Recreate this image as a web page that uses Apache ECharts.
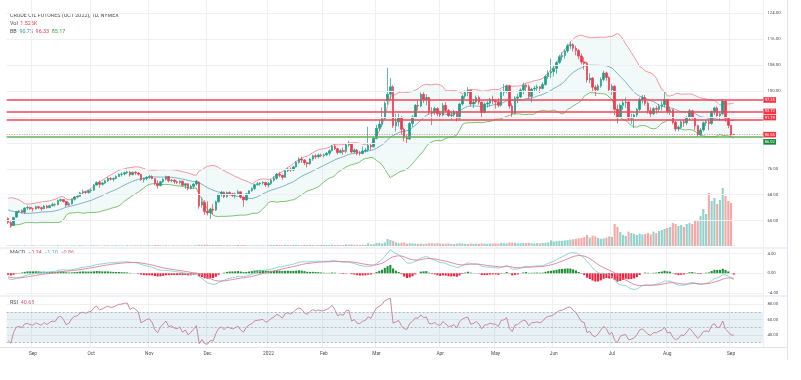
<!DOCTYPE html>
<html><head><meta charset="utf-8">
<script src="https://cdn.jsdelivr.net/npm/echarts@6/dist/echarts.min.js"></script>
<style>html,body{margin:0;padding:0;background:#fff}#c{width:801px;height:380px}</style>
</head><body><div id="c"></div>
<script>
// ---------------- DATA ----------------
const monthKeys = ['2021-08','2021-09','2021-10','2021-11','2021-12','2022-01','2022-02','2022-03','2022-04','2022-05','2022-06','2022-07','2022-08','2022-09'];
const monthTickLabels = ['','Sep','Oct','Nov','Dec','2022','Feb','Mar','Apr','May','Jun','Jul','Aug','Sep'];
const tradingDays = [
 [19,20,23,24,25,26,27,30,31],
 [1,2,3,7,8,9,10,13,14,15,16,17,20,21,22,23,24,27,28,29,30],
 [1,4,5,6,7,8,11,12,13,14,15,18,19,20,21,22,25,26,27,28,29],
 [1,2,3,4,5,8,9,10,11,12,15,16,17,18,19,22,23,24,26,29,30],
 [1,2,3,6,7,8,9,10,13,14,15,16,17,20,21,22,23,27,28,29,30,31],
 [3,4,5,6,7,10,11,12,13,14,18,19,20,21,24,25,26,27,28,31],
 [1,2,3,4,7,8,9,10,11,14,15,16,17,18,22,23,24,25,28],
 [1,2,3,4,7,8,9,10,11,14,15,16,17,18,21,22,23,24,25,28,29,30,31],
 [1,4,5,6,7,8,11,12,13,14,18,19,20,21,22,25,26,27,28,29],
 [2,3,4,5,6,9,10,11,12,13,16,17,18,19,20,23,24,25,26,27,31],
 [1,2,3,6,7,8,9,10,13,14,15,16,17,21,22,23,24,27,28,29,30],
 [1,5,6,7,8,11,12,13,14,15,18,19,20,21,22,25,26,27,28,29],
 [1,2,3,4,5,8,9,10,11,12,15,16,17,18,19,22,23,24,25,26,29,30,31],
 [1,2]
];
// closes before the first visible bar (only used to warm up the indicators)
const warmupClose = [65.0,65.6,65.9,66.3,66.5,66.0,66.3,66.7,67.5,67.6,66.2,65.9,66.2,66.8,66.6,67.4,65.9,65.1,65.0,60.9,61.5,63.6,64.3,64.6,64.7,64.9,65.6,66.2,66.5,64.7,63.2,62.4,62.9,62.3,61.3,62.8,63.7,63.3,63.0,62.4,62.0,60.7];
// [open, close, low, high]
const candles = [
[60.7,59.5,59.0,61.0],[59.4,58.3,57.8,59.8],[58.5,61.0,58.4,61.2],[61.1,62.8,60.9,63.0],[62.8,63.0,62.3,63.3],[63.1,62.6,62.2,63.5],[62.6,63.9,62.0,64.1],[63.9,64.1,63.3,64.6],[64.1,63.7,63.3,64.3],
[63.7,63.6,62.8,64.0],[63.6,64.3,63.4,64.6],[64.3,64.0,63.6,64.6],[64.0,63.7,63.0,64.3],[63.7,64.5,63.5,64.8],[64.5,64.0,63.7,64.8],[64.0,64.6,63.9,64.9],[64.6,65.0,64.4,65.6],[65.0,64.9,64.4,65.4],[64.9,66.2,64.8,66.5],[66.2,66.5,65.8,66.8],[66.5,65.9,65.6,66.6],[65.9,64.8,64.3,66.0],[64.8,65.2,64.6,65.7],[65.2,66.6,65.0,66.8],[66.6,67.3,66.2,67.6],[67.3,67.5,66.9,67.8],[67.5,68.6,67.4,68.9],[68.6,68.9,68.2,69.6],[68.9,68.7,68.1,69.2],[68.7,69.2,68.3,69.5],
[69.2,69.4,68.6,69.8],[69.4,71.0,69.2,71.3],[71.0,71.8,70.8,72.1],[71.8,71.2,70.2,72.4],[71.2,71.6,70.8,72.0],[71.6,72.3,71.3,72.6],[72.3,73.0,72.0,73.5],[73.0,72.8,72.4,73.4],[72.8,73.0,72.1,73.3],[73.0,73.6,72.8,74.0],[73.6,74.3,73.5,74.6],[74.3,74.4,73.6,74.9],[74.4,74.8,74.0,75.1],[74.8,75.0,74.3,75.4],[75.0,74.2,73.6,75.3],[74.2,74.9,74.0,75.2],[74.9,74.7,74.1,75.3],[74.7,74.3,73.9,75.0],[74.3,72.6,72.3,74.4],[72.6,73.0,71.8,73.3],[73.0,73.4,72.4,73.7],
[73.4,73.6,72.9,74.1],[73.6,73.0,72.7,74.0],[73.0,71.5,71.0,73.1],[71.5,70.8,69.9,72.4],[70.8,72.0,70.6,72.3],[72.0,72.8,71.7,73.0],[72.8,73.6,72.4,73.9],[73.6,72.3,71.8,73.8],[72.3,72.5,71.9,72.9],[72.5,72.0,71.4,72.8],[72.0,71.8,71.3,72.4],[71.8,72.2,71.2,72.5],[72.2,70.9,70.6,72.3],[70.9,71.4,69.9,71.6],[71.4,70.0,69.4,71.5],[70.0,70.6,69.6,71.1],[70.6,71.3,69.8,71.6],[71.3,72.2,70.9,72.5],[71.9,64.5,63.7,72.1],[64.8,65.8,64.0,67.2],[65.6,62.8,61.8,66.3],
[62.9,62.4,61.6,66.0],[62.4,63.6,60.5,64.0],[63.6,63.2,61.9,65.1],[63.3,65.8,63.0,66.2],[65.8,68.0,65.6,68.4],[68.0,68.8,67.4,69.2],[68.8,67.4,67.0,69.0],[67.4,68.7,67.1,69.0],[68.7,68.3,67.8,69.1],[68.3,67.8,67.3,68.6],[67.8,68.3,66.9,68.7],[68.3,68.9,68.0,69.5],[68.9,67.3,66.8,69.0],[67.3,66.4,64.3,67.4],[66.4,68.3,66.2,68.5],[68.3,69.2,67.9,69.4],[69.2,69.9,69.0,70.3],[69.9,71.1,69.4,71.4],[71.1,71.4,70.8,71.9],[71.4,71.6,70.8,71.9],[71.6,71.8,71.1,72.2],[71.8,71.0,70.4,72.0],
[71.0,71.5,70.2,71.9],[71.5,72.5,71.0,72.9],[72.5,73.1,72.0,73.8],[73.1,74.3,72.6,74.7],[74.3,74.0,73.4,75.0],[74.0,73.4,72.6,74.2],[73.4,75.4,73.2,75.6],[75.4,75.9,75.0,76.4],[75.9,75.6,75.1,76.4],[75.6,76.6,75.3,76.9],[76.6,78.0,76.4,78.4],[78.0,79.0,77.5,79.5],[79.0,78.7,77.8,79.7],[78.7,77.9,77.2,79.0],[77.9,77.6,76.4,78.2],[77.6,79.0,77.2,79.3],[79.0,80.0,78.5,80.4],[80.0,79.7,79.0,80.5],[79.7,80.3,79.2,80.7],[80.3,80.1,79.6,80.7],
[80.1,80.3,79.5,80.7],[80.3,80.8,79.9,81.2],[80.8,81.6,80.1,82.0],[81.6,83.0,81.3,83.3],[83.0,82.2,81.8,83.5],[82.2,81.0,80.4,82.5],[81.0,81.6,80.8,82.1],[81.6,81.4,80.4,82.6],[81.4,83.4,80.8,83.9],[83.4,83.8,82.8,84.7],[83.8,81.2,80.8,84.0],[81.2,81.8,80.8,82.3],[81.8,80.8,80.2,82.1],[80.8,80.7,80.1,81.5],[80.7,81.5,80.5,82.9],[81.5,81.8,81.0,82.4],[81.8,83.2,81.3,89.0],[83.2,82.8,81.8,84.0],[82.8,85.4,82.6,85.9],
[85.4,88.5,85.1,89.6],[88.5,89.8,87.6,91.2],[89.8,91.5,88.9,95.0],[91.5,96.2,91.3,96.8],[97.0,99.0,95.8,107.2],[99.0,101.3,97.2,104.0],[101.3,89.3,88.6,101.8],[89.3,90.5,87.5,93.0],[90.5,91.8,89.0,93.0],[91.8,88.2,86.5,92.3],[88.2,85.6,84.5,88.7],[85.6,85.2,83.8,86.6],[85.2,90.0,84.9,90.5],[90.0,92.0,89.0,92.6],[92.0,95.6,91.6,96.0],[95.6,95.4,94.0,97.0],[95.4,99.0,95.0,99.6],[99.0,97.3,96.3,99.6],[97.3,98.0,95.6,99.0],[98.0,93.6,92.8,98.2],[93.6,93.3,89.5,95.0],[93.3,94.6,92.6,95.2],[94.6,93.0,92.2,95.0],
[93.0,92.6,91.6,93.9],[92.6,95.6,92.2,96.4],[95.6,94.0,93.6,96.6],[94.0,92.4,91.8,94.5],[92.4,92.6,91.2,93.6],[92.6,93.6,92.0,94.2],[93.6,91.6,90.6,93.9],[91.6,96.0,91.4,96.4],[96.0,98.4,95.5,98.9],[98.4,99.5,97.6,100.2],[99.5,100.2,98.4,101.2],[100.2,96.0,95.4,100.5],[96.0,96.6,94.8,97.4],[96.6,98.0,96.0,98.6],[98.0,96.6,95.8,98.6],[96.6,93.4,92.0,96.7],[93.4,96.0,93.2,96.5],[96.0,96.3,94.9,96.9],[96.3,97.4,95.2,97.9],[97.4,97.0,96.0,98.6],
[97.0,96.7,94.6,97.6],[96.7,95.6,95.0,97.7],[95.6,99.6,95.2,100.2],[99.6,100.0,98.5,102.2],[100.0,101.6,99.3,102.0],[101.6,95.4,94.6,102.0],[95.4,93.0,92.0,96.2],[93.0,97.8,92.8,98.4],[97.8,98.2,96.2,99.2],[98.2,100.3,97.8,100.8],[100.3,101.8,99.0,102.6],[101.8,101.3,99.9,102.3],[101.3,98.3,97.6,102.0],[98.3,100.6,96.5,101.0],[100.6,100.9,99.8,101.6],[100.9,101.3,99.9,102.0],[101.3,100.8,99.4,101.6],[100.8,102.0,100.5,102.7],[102.0,104.5,101.7,105.0],[104.5,105.6,103.8,106.4],[105.6,106.0,104.0,110.0],
[106.0,107.0,104.5,107.8],[107.0,108.8,105.3,109.2],[108.8,110.6,108.4,111.2],[110.6,111.0,109.4,112.0],[111.0,112.4,110.0,112.9],[112.4,114.0,111.8,114.6],[114.0,114.3,113.0,115.3],[114.3,113.2,112.2,114.8],[113.2,112.5,111.0,114.0],[112.5,110.8,109.8,113.0],[110.8,109.0,108.2,111.6],[109.0,108.6,106.6,110.4],[108.6,103.4,102.6,109.0],[103.4,104.0,102.4,105.5],[104.0,101.2,99.6,104.3],[101.2,100.4,98.4,101.8],[100.4,101.6,99.8,102.2],[101.6,103.6,101.0,104.2],[103.6,105.6,103.0,106.3],[105.6,104.2,103.2,106.0],[104.2,100.4,99.6,104.6],
[100.4,101.5,98.8,102.2],[101.5,94.4,92.6,101.8],[94.4,92.0,90.0,95.8],[92.0,95.6,91.8,96.2],[95.6,96.4,94.2,97.3],[96.4,96.6,94.8,98.0],[96.6,91.6,91.0,96.8],[91.6,91.9,89.8,93.0],[91.9,92.6,88.6,93.0],[92.6,94.3,91.8,94.8],[94.3,97.4,93.8,98.0],[97.4,98.0,96.2,98.8],[98.0,96.2,95.5,98.8],[96.2,93.9,93.0,96.8],[93.9,93.0,92.0,95.0],[93.0,94.6,92.5,95.0],[94.6,94.4,93.0,95.4],[94.4,95.3,93.4,96.0],[95.3,95.8,94.0,97.0],[95.8,97.4,95.0,99.8],
[97.4,93.8,93.0,97.5],[93.8,94.2,92.6,95.3],[94.2,90.4,89.7,94.5],[90.4,88.3,87.5,90.8],[88.3,88.8,87.6,89.4],[88.8,90.5,88.3,91.0],[90.5,90.2,89.0,91.0],[90.2,91.8,89.5,92.3],[91.8,93.9,91.0,94.5],[93.9,91.9,91.5,94.1],[91.9,89.3,87.9,92.0],[89.3,86.6,85.9,89.6],[86.6,88.0,86.1,88.6],[88.0,90.2,87.5,90.6],[90.2,90.5,89.2,91.1],[90.5,90.0,87.9,91.2],[90.0,93.6,89.6,94.0],[93.6,94.8,92.6,95.2],[94.8,92.4,92.0,95.3],[92.4,93.0,91.2,93.6],[93.0,96.9,92.5,97.6],[96.9,91.6,90.5,97.0],[91.6,89.4,88.5,92.0],
[89.4,86.6,85.8,89.5],[86.6,86.55,86.4,86.7]
];
// volume, thousands of contracts
const volumeK = [
2,3,2,3,2,2,3,2,2,
3,2,2,3,2,2,3,3,2,4,3,2,3,2,3,3,2,4,3,3,2,
3,4,3,3,2,3,4,3,3,4,3,3,2,4,3,3,4,3,4,3,3,
4,3,4,5,3,3,4,3,3,4,3,3,4,3,4,3,3,4,6,5,7,
6,5,5,4,5,4,3,4,4,3,4,5,4,5,4,3,3,3,4,3,3,2,
4,5,5,6,5,4,6,5,4,6,6,5,4,6,5,6,5,4,5,5,
6,5,6,7,5,6,5,5,8,7,9,6,6,5,6,6,14,8,10,
15,16,12,18,35,30,26,18,14,16,17,12,14,13,12,11,12,10,11,14,13,12,14,
12,11,12,13,11,10,12,14,12,11,10,12,11,12,11,13,12,11,12,12,
13,12,15,14,13,18,17,16,13,14,15,14,16,14,13,14,13,15,16,18,28,
22,24,26,25,28,30,32,34,36,38,40,45,55,42,52,48,40,36,38,42,48,
45,110,95,70,55,50,72,65,60,55,62,58,60,66,58,72,65,75,80,85,
90,95,115,110,100,105,95,110,115,110,125,130,150,185,160,265,225,240,210,230,290,250,225,
215,1.526
];
const priceGridLevels = [60,68,76,84,92,100,108,116,124];
const priceAxisLabels = [60,68,76,100,108,116,124];
const resistanceLevels = [97.25, 93.72, 91.19];
const supportLevel = 86.02;
const lastPrice = 86.55;
const headerTitle = 'CRUDE OIL FUTURES (OCT 2022), 1D, NYMEX';
const volText = '1.526K';
const bbText = ['90.75','96.33','85.17'];
const macdText = ['−0.24','−1.10','−0.86'];
const rsiText = '40.68';

// ---------------- INDICATORS ----------------
const closesAll = warmupClose.concat(candles.map(r => r[1]));
const W0 = warmupClose.length;
function bollinger(cl, n, k) {
  const up = [], mid = [], lo = [];
  for (let i = 0; i < cl.length; i++) {
    if (i < n - 1) { up.push(null); mid.push(null); lo.push(null); continue; }
    let s = 0; for (let j = i - n + 1; j <= i; j++) s += cl[j];
    const m = s / n; let v = 0;
    for (let j = i - n + 1; j <= i; j++) v += (cl[j] - m) * (cl[j] - m);
    const sd = Math.sqrt(v / n);
    mid.push(m); up.push(m + k * sd); lo.push(m - k * sd);
  }
  return [up, mid, lo];
}
function ema(arr, n) {
  const a = 2 / (n + 1); const out = []; let p = arr[0];
  arr.forEach((v, i) => { p = i === 0 ? v : a * v + (1 - a) * p; out.push(p); });
  return out;
}
function rsiCalc(cl, n) {
  const out = [null]; let ag = 0, al = 0;
  for (let i = 1; i < cl.length; i++) {
    const d = cl[i] - cl[i - 1]; const g = Math.max(d, 0), l = Math.max(-d, 0);
    if (i <= n) { ag += g / n; al += l / n; out.push(i === n ? 100 - 100 / (1 + ag / (al || 1e-9)) : null); }
    else { ag = (ag * (n - 1) + g) / n; al = (al * (n - 1) + l) / n; out.push(100 - 100 / (1 + ag / (al || 1e-9))); }
  }
  return out;
}
const [bbUp, bbMid, bbLo] = bollinger(closesAll, 20, 2).map(a => a.slice(W0));
const e12 = ema(closesAll, 12), e26 = ema(closesAll, 26);
const macdAll = e12.map((v, i) => v - e26[i]);
const sigAll = ema(macdAll, 9);
const macdLine = macdAll.slice(W0), sigLine = sigAll.slice(W0);
const hist = macdLine.map((v, i) => v - sigLine[i]);
const rsiLine = rsiCalc(closesAll, 14).slice(W0);

// ---------------- CATEGORIES ----------------
const cats = []; const monthStart = {};
monthKeys.forEach((m, k) => {
  if (monthTickLabels[k]) monthStart[cats.length] = monthTickLabels[k];
  tradingDays[k].forEach(d => cats.push(m + '-' + String(d).padStart(2, '0')));
});
const PAD = 10; for (let i = 0; i < PAD; i++) cats.push('~' + i);

// ---------------- CHART ----------------
const FONT = 'Roboto, "Liberation Sans", sans-serif';
const TXT = '#4a4d57';
const GRIDC = '#eef0f4';
const UP = '#1f9d88', DOWN = '#f0384b';
const L = 6.69, R = 38.1;
const chart = echarts.init(document.getElementById('c'), null, {renderer: 'canvas', width: 801, height: 380, devicePixelRatio: 1});

function catAxis(gi, extra) {
  return Object.assign({type: 'category', gridIndex: gi, data: cats, boundaryGap: true,
    axisLine: {show: false}, axisTick: {show: false}, axisLabel: {show: false}, splitLine: {show: false}}, extra || {});
}
const isMonth = (i) => monthStart[i] !== undefined;

const option = {
  animation: false,
  backgroundColor: '#ffffff',
  grid: [
    {left: L, right: R, top: 0.34, height: 246.24},
    {left: L, right: R, top: 176, height: 70},
    {left: L, right: R, top: 233.6, height: 79.4},
    {left: L, right: R, top: 288.95, height: 61.4},
    {left: L, right: R, top: 0, height: 347}
  ],
  xAxis: [
    catAxis(0), catAxis(1), catAxis(2),
    catAxis(3, {axisLabel: {show: true, interval: (i) => isMonth(i), formatter: (v, i) => monthStart[i] || '',
      fontSize: 4.8, color: TXT, fontFamily: FONT, margin: 0.5}}),
    catAxis(4, {splitLine: {show: true, interval: (i) => isMonth(i), lineStyle: {color: GRIDC, width: 1}}})
  ],
  yAxis: [
    {type: 'value', gridIndex: 0, position: 'right', min: 52, max: 128, interval: 4, scale: true,
     axisLine: {show: false}, axisTick: {show: false}, splitLine: {show: false},
     axisLabel: {formatter: v => priceAxisLabels.indexOf(v) >= 0 ? v.toFixed(2) : '', fontSize: 4.3, color: TXT, fontFamily: FONT, margin: 4.5}},
    {type: 'value', gridIndex: 1, min: 0, max: 350, show: false},
    {type: 'value', gridIndex: 2, position: 'right', min: -8, max: 8, interval: 4,
     axisLine: {show: false}, axisTick: {show: false},
     splitLine: {show: true, showMinLine: false, showMaxLine: false, lineStyle: {color: GRIDC}},
     axisLabel: {showMinLabel: false, showMaxLabel: false, formatter: v => (v < 0 ? '−' : '') + Math.abs(v).toFixed(2), fontSize: 4.3, color: TXT, fontFamily: FONT, margin: 4.5}},
    {type: 'value', gridIndex: 3, position: 'right', min: 20, max: 100, interval: 20,
     axisLine: {show: false}, axisTick: {show: false},
     splitLine: {show: true, showMinLine: false, showMaxLine: false, lineStyle: {color: GRIDC}},
     axisLabel: {showMinLabel: false, showMaxLabel: false, formatter: v => v.toFixed(2), fontSize: 4.3, color: TXT, fontFamily: FONT, margin: 4.5}},
    {type: 'value', gridIndex: 4, show: false}
  ],
  series: [
    {name: 'bbBase', type: 'line', xAxisIndex: 0, yAxisIndex: 0, data: bbLo, stack: 'bb', symbol: 'none',
     lineStyle: {opacity: 0}, silent: true, z: 1,
     markLine: {silent: true, symbol: ['none', 'none'], label: {show: false},
       lineStyle: {color: GRIDC, width: 1, type: 'solid'},
       data: priceGridLevels.map(v => ({yAxis: v}))}},
    {name: 'bbBand', type: 'line', xAxisIndex: 0, yAxisIndex: 0, data: bbUp.map((v, i) => v === null ? null : v - bbLo[i]),
     stack: 'bb', symbol: 'none', lineStyle: {opacity: 0}, areaStyle: {color: 'rgba(38,166,154,0.085)'}, silent: true, z: 1},
    {name: 'bbUpper', type: 'line', xAxisIndex: 0, yAxisIndex: 0, data: bbUp, symbol: 'none', lineStyle: {color: '#f48a95', width: 0.9}, silent: true, z: 2},
    {name: 'bbMid', type: 'line', xAxisIndex: 0, yAxisIndex: 0, data: bbMid, symbol: 'none', lineStyle: {color: '#72a9c2', width: 0.9}, silent: true, z: 2},
    {name: 'bbLower', type: 'line', xAxisIndex: 0, yAxisIndex: 0, data: bbLo, symbol: 'none', lineStyle: {color: '#6cbb62', width: 0.9}, silent: true, z: 2},
    {name: 'price', type: 'candlestick', xAxisIndex: 0, yAxisIndex: 0, data: candles, barWidth: '74%', z: 4,
     itemStyle: {color: UP, color0: DOWN, borderColor: UP, borderColor0: DOWN, borderWidth: 0.7},
     markLine: {silent: true, symbol: ['none', 'none'], animation: false,
       data: resistanceLevels.map((v, k) => ({yAxis: v, lineStyle: {color: '#f2445a', width: 1.5, type: 'solid'},
           label: {show: true, position: 'end', distance: 0.5, formatter: v.toFixed(2), color: '#fff', backgroundColor: '#f23645',
             fontSize: 4, fontFamily: FONT, padding: [1, 1.3, 0.6, 1.3], offset: [0, k === 2 ? -2 : 0]}}))
         .concat([
           {yAxis: lastPrice, lineStyle: {color: '#f23645', width: 0.6, type: [1, 1.5]},
            label: {show: true, position: 'end', distance: 0.5, formatter: lastPrice.toFixed(2), color: '#fff', backgroundColor: '#f23645',
              fontSize: 4, fontFamily: FONT, padding: [1, 1.3, 0.6, 1.3], offset: [0, 0]}},
           {yAxis: supportLevel, lineStyle: {color: '#5fb35a', width: 1.6, type: 'solid'},
            label: {show: true, position: 'end', distance: 0.5, formatter: supportLevel.toFixed(2), color: '#fff', backgroundColor: '#178a35',
              fontSize: 4, fontFamily: FONT, padding: [1, 1.3, 0.6, 1.3], offset: [0, 5.5]}}
         ])}},
    {name: 'volume', type: 'bar', xAxisIndex: 1, yAxisIndex: 1, barWidth: '76%', z: 0, silent: true,
     data: volumeK.map((v, i) => ({value: v, itemStyle: {color: candles[i][1] >= candles[i][0] ? 'rgba(38,166,154,0.5)' : 'rgba(239,83,80,0.5)'}}))},
    {name: 'hist', type: 'bar', xAxisIndex: 2, yAxisIndex: 2, barWidth: '76%', silent: true,
     data: hist.map(v => ({value: v, itemStyle: {color: v >= 0 ? '#1f8f36' : '#f2203c'}}))},
    {name: 'macd', type: 'line', xAxisIndex: 2, yAxisIndex: 2, data: macdLine, symbol: 'none', silent: true, lineStyle: {color: '#7fd3c9', width: 0.9}},
    {name: 'signal', type: 'line', xAxisIndex: 2, yAxisIndex: 2, data: sigLine, symbol: 'none', silent: true, lineStyle: {color: '#dc7f9a', width: 0.9}},
    {name: 'rsi', type: 'line', xAxisIndex: 3, yAxisIndex: 3, data: rsiLine, symbol: 'none', silent: true, lineStyle: {color: '#c47d97', width: 0.9},
     markArea: {silent: true, itemStyle: {color: 'rgba(120,178,186,0.18)'}, data: [[{yAxis: 70}, {yAxis: 30}]]},
     markLine: {silent: true, symbol: ['none', 'none'], label: {show: false},
       lineStyle: {color: '#9aa0aa', width: 0.7, type: [2, 2]}, data: [{yAxis: 70}, {yAxis: 50}, {yAxis: 30}]}}
  ],
  graphic: [
    {type: 'line', shape: {x1: 0, y1: 248, x2: 787, y2: 248}, style: {stroke: '#e0e3eb', lineWidth: 1}, silent: true},
    {type: 'line', shape: {x1: 0, y1: 296, x2: 787, y2: 296}, style: {stroke: '#e0e3eb', lineWidth: 1}, silent: true},
    {type: 'line', shape: {x1: 0, y1: 347.5, x2: 787, y2: 347.5}, style: {stroke: '#e0e3eb', lineWidth: 1}, silent: true},
    {type: 'line', shape: {x1: 787.5, y1: 0, x2: 787.5, y2: 360}, style: {stroke: '#e0e3eb', lineWidth: 1}, silent: true},
    {type: 'text', x: 10, y: 15.7, style: {text: headerTitle, fill: TXT, font: '5.4px ' + FONT, textVerticalAlign: 'middle'}, silent: true},
    {type: 'text', x: 10, y: 23.8, style: {text: '{a|Vol}  {r|' + volText + '}', textVerticalAlign: 'middle', font: '5.4px ' + FONT,
      rich: {a: {fill: TXT, fontSize: 5.4, fontFamily: FONT}, r: {fill: '#f0384b', fontSize: 5.4, fontFamily: FONT}}}, silent: true},
    {type: 'text', x: 10, y: 31.7, style: {text: '{a|BB}  {b|' + bbText[0] + '}  {r|' + bbText[1] + '}  {g|' + bbText[2] + '}', textVerticalAlign: 'middle', font: '5.4px ' + FONT,
      rich: {a: {fill: TXT, fontSize: 5.4, fontFamily: FONT}, b: {fill: '#3a8fb0', fontSize: 5.4, fontFamily: FONT}, r: {fill: '#f0384b', fontSize: 5.4, fontFamily: FONT}, g: {fill: '#3f9c45', fontSize: 5.4, fontFamily: FONT}}}, silent: true},
    {type: 'text', x: 10, y: 252.3, style: {text: '{a|MACD}  {r|' + macdText[0] + '}  {t|' + macdText[1] + '}  {p|' + macdText[2] + '}', textVerticalAlign: 'middle', font: '5.4px ' + FONT,
      rich: {a: {fill: TXT, fontSize: 5.4, fontFamily: FONT}, r: {fill: '#f0384b', fontSize: 5.4, fontFamily: FONT}, t: {fill: '#3fb5a8', fontSize: 5.4, fontFamily: FONT}, p: {fill: '#d66f8e', fontSize: 5.4, fontFamily: FONT}}}, silent: true},
    {type: 'text', x: 10, y: 302.3, style: {text: '{a|RSI}  {p|' + rsiText + '}', textVerticalAlign: 'middle', font: '5.4px ' + FONT,
      rich: {a: {fill: TXT, fontSize: 5.4, fontFamily: FONT}, p: {fill: '#c4607f', fontSize: 5.4, fontFamily: FONT}}}, silent: true}
  ]
};
chart.setOption(option);
</script>
</body></html>
